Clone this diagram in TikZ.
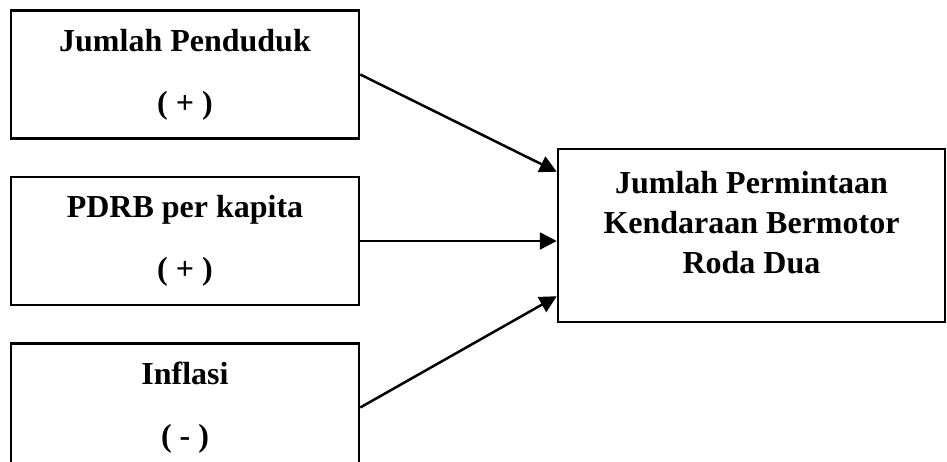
\documentclass[tikz,border=0pt]{standalone}
\usepackage{fontspec}
\setmainfont{Liberation Serif}
\usetikzlibrary{arrows.meta,positioning}

\begin{document}
\begin{tikzpicture}[x=1pt,y=-1pt,
                    factor/.style={draw,line width=2.5pt,minimum width=348pt,minimum height=128pt,
                                   inner sep=0pt,align=center,font=\fontsize{32}{40}\selectfont\bfseries},
                    target/.style={draw,line width=2.5pt,minimum width=387pt,minimum height=173pt,inner sep=0pt},
                    target label/.style={align=center,inner sep=0pt,font=\fontsize{32}{40}\selectfont\bfseries},
                    effect/.style={line width=2.5pt,-{Triangle[length=17pt,width=17pt]}}]
    \useasboundingbox (0,0) rectangle (947,462);

    % factors
    \node[factor] (penduduk) at (185,74.5) {Jumlah Penduduk\\[22pt]( + )};
    \node[factor,below=36pt of penduduk] (pdrb) {PDRB per kapita\\[22pt]( + )};
    \node[factor,below=36pt of pdrb] (inflasi) {Inflasi\\[22pt]( - )};

    % demand
    \node[target] (dv) at (751.5,235.5) {};
    \node[target label] (dvtext) at ([yshift=13pt]dv.center) {Jumlah Permintaan\\Kendaraan Bermotor\\Roda Dua};

    \draw[effect] (penduduk.east) -- ([yshift=-24pt]dv.north west);
    \draw[effect] (pdrb.east) -- (pdrb.east -| dv.west);
    \draw[effect] (inflasi.east) -- ([yshift=27pt]dv.south west);
\end{tikzpicture}
\end{document}
